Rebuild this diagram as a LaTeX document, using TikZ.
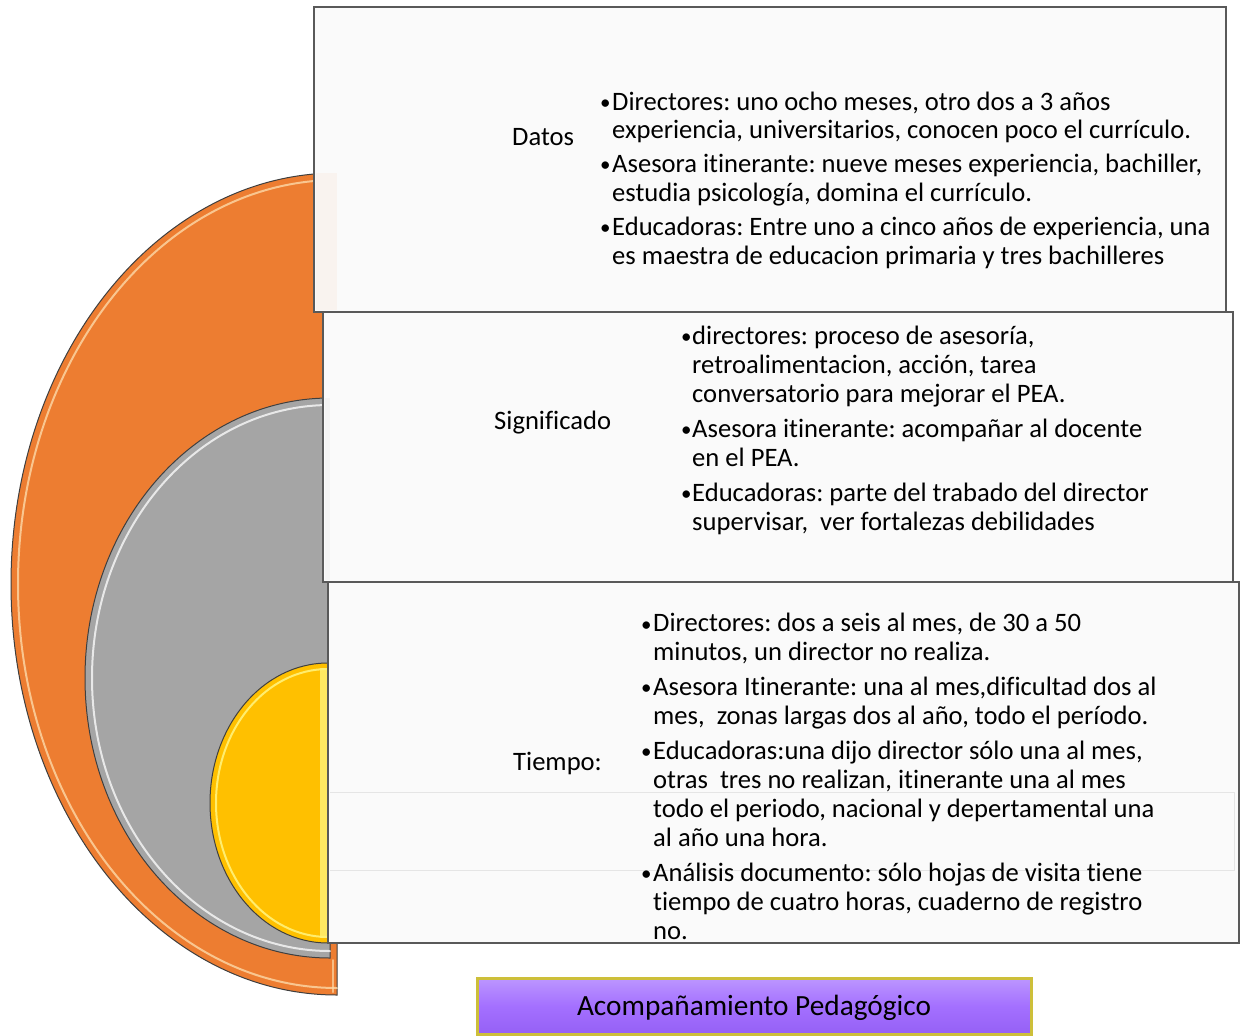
\documentclass[tikz,border=0pt]{standalone}
\usepackage{fontspec}
\setmainfont{Carlito}[Ligatures={NoCommon}]
\frenchspacing
\newcommand{\bul}[1]{\makebox[#1][l]{\raisebox{0.5pt}{\fontsize{21}{21}\selectfont •}}}
\definecolor{cOrange}{HTML}{ED7D31}
\definecolor{cOrangeHi}{HTML}{FCD9A8}
\definecolor{cGray}{HTML}{A5A5A5}
\definecolor{cYellow}{HTML}{FFC000}
\definecolor{cYellowHi}{HTML}{FFF27A}
\definecolor{cBoxFill}{HTML}{FAFAFA}
\definecolor{cBoxLine}{HTML}{595959}
\definecolor{cPurple}{HTML}{A470FF}
\definecolor{cPurpleTop}{HTML}{BC96FF}
\definecolor{cPurpleBot}{HTML}{9560F5}
\definecolor{cOlive}{HTML}{CDBF3A}
\definecolor{cOutline}{HTML}{3F3F3F}
\begin{document}
\begin{tikzpicture}[x=1pt,y=-1pt,
  halfdisc/.style={draw=cOutline, line width=1pt},
  bevel/.style={line width=2pt, line cap=round},
  panel/.style={fill=cBoxFill, draw=cBoxLine, line width=2.8pt},
  faint/.style={draw=black!10, line width=1pt},
  txt/.style={inner sep=0pt, anchor=base west, font=\fontsize{26.6}{29}\selectfont, text=black},
  lbl/.style={inner sep=0pt, anchor=base west, font=\fontsize{26.6}{29}\selectfont, text=black},
  title/.style={inner sep=0pt, font=\fontsize{29.3}{32}\selectfont, text=black}]
\useasboundingbox (0,0) rectangle (1240,1036);

% ---- half discs ----
% orange: centre (337,584), rx 326, ry 411
\path[halfdisc, fill=cOrange] (337,173) arc[start angle=90, end angle=270, x radius=326pt, y radius=411pt] -- cycle;
\draw[bevel, cOrangeHi, opacity=0.8] (337,180) arc[start angle=90, end angle=270, x radius=319pt, y radius=404pt];
\draw[bevel, cOrangeHi, opacity=0.7] (333,960) -- (333,992);
% gray: centre (330,678), rx 245, ry 280
\path[halfdisc, fill=cGray] (330,398) arc[start angle=90, end angle=270, x radius=245pt, y radius=280pt] -- cycle;
\draw[bevel, white, opacity=0.75] (330,405) arc[start angle=90, end angle=270, x radius=238pt, y radius=273pt];
% yellow: centre (328,803), rx 118, ry 140
\path[halfdisc, fill=cYellow] (328,663) arc[start angle=90, end angle=270, x radius=118pt, y radius=140pt] -- cycle;
\draw[bevel, cYellowHi, opacity=0.9] (328,669) arc[start angle=90, end angle=270, x radius=112pt, y radius=134pt];
\fill[cYellowHi, opacity=0.8] (320,668) rectangle (327,938);

% ---- panels ----
\draw[panel] (314,7) rectangle (1226,312);
\fill[cOrange, opacity=0.05] (316,173) rectangle (337,310);
\draw[panel] (323,312) rectangle (1233,582);
\fill[cGray, opacity=0.08] (325,398) rectangle (330,580);
\draw[panel] (328,582) rectangle (1239,943);
\draw[faint] (330,792) -- (1234,792) -- (1234,870) -- (330,870);

% ---- Datos ----
\node[lbl] (lDatos) at (512,145) {Datos};
\node[txt] (d1) at (600,110) {\bul{12pt}Directores: uno ocho meses, otro dos a 3 años};
\node[txt] (d2) at (612,138.5) {experiencia, universitarios, conocen poco el currículo.};
\node[txt] (d3) at (600,172) {\bul{12pt}Asesora itinerante: nueve meses experiencia, bachiller,};
\node[txt] (d4) at (612,201) {estudia psicología, domina el currículo.};
\node[txt] (d5) at (600,235) {\bul{12pt}Educadoras: Entre uno a cinco años de experiencia, una};
\node[txt] (d6) at (612,264) {es maestra de educacion primaria y tres bachilleres};

% ---- Significado ----
\node[lbl] (lSig) at (494,429) {Significado};
\node[txt] (s1) at (681,344) {\bul{11pt}directores: proceso de asesoría,};
\node[txt] (s2) at (692,373.5) {retroalimentacion, acción, tarea};
\node[txt] (s3) at (692,402.5) {conversatorio para mejorar el PEA.};
\node[txt] (s4) at (681,437) {\bul{11pt}Asesora itinerante: acompañar al docente};
\node[txt] (s5) at (692,466) {en el PEA.};
\node[txt] (s6) at (681,501) {\bul{11pt}Educadoras: parte del trabado del director};
\node[txt] (s7) at (692,530) {supervisar,\ \ ver fortalezas debilidades};

% ---- Tiempo ----
\node[lbl] (lTiempo) at (513,770) {Tiempo:};
\node[txt] (t1) at (641,631.5) {\bul{12pt}Directores: dos a seis al mes, de 30 a 50};
\node[txt] (t2) at (653,660) {minutos, un director no realiza.};
\node[txt] (t3) at (641,695) {\bul{12pt}Asesora Itinerante: una al mes,dificultad dos al};
\node[txt] (t4) at (653,724) {mes,\ \ zonas largas dos al año, todo el período.};
\node[txt] (t5) at (641,759) {\bul{12pt}Educadoras:una dijo director sólo una al mes,};
\node[txt] (t6) at (653,788) {otras\ \ tres no realizan, itinerante una al mes};
\node[txt] (t7) at (653,817) {todo el periodo, nacional y depertamental una};
\node[txt] (t8) at (653,846) {al año una hora.};
\node[txt] (t9) at (641,881) {\bul{12pt}Análisis documento: sólo hojas de visita tiene};
\node[txt] (t10) at (653,910) {tiempo de cuatro horas, cuaderno de registro};
\node[txt] (t11) at (653,939) {no.};

% ---- title bar ----
\shade[top color=cPurpleTop, bottom color=cPurpleBot, middle color=cPurple] (477,978) rectangle (1031,1034);
\draw[cOlive, line width=3pt] (477,978) rectangle (1031,1034);
\node[title] (tAcomp) at (754,1008) {Acompañamiento Pedagógico};
\end{tikzpicture}
\end{document}
